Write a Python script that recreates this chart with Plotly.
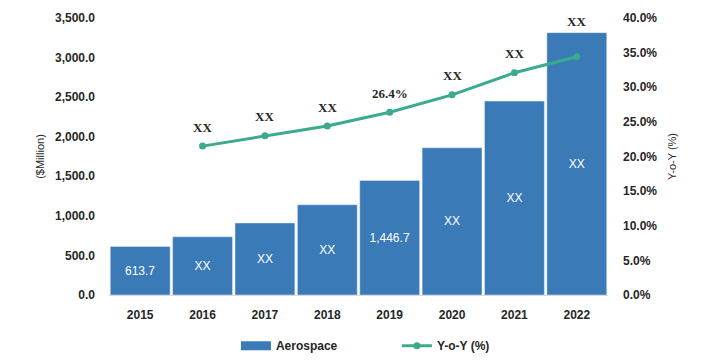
import plotly.graph_objects as go

years = [2015, 2016, 2017, 2018, 2019, 2020, 2021, 2022]
aerospace = [613.7, 735, 910, 1140, 1446.7, 1860, 2450, 3315]
bar_labels = ["613.7", "XX", "XX", "XX", "1,446.7", "XX", "XX", "XX"]
yoy_years = [2016, 2017, 2018, 2019, 2020, 2021, 2022]
yoy = [0.215, 0.230, 0.244, 0.264, 0.289, 0.321, 0.344]
yoy_labels = ["XX", "XX", "XX", "26.4%", "XX", "XX", "XX"]

BAR = "#3A7AB7"
LINE = "#3BAA8E"
TXT = "#262626"
SANS = "Liberation Sans, Arial, sans-serif"
SERIF = "Liberation Serif, Times New Roman, serif"
TICKF = dict(family=SANS, size=12, color=TXT, weight="bold")

fig = go.Figure()
fig.add_trace(go.Bar(
    x=years, y=aerospace, name="Aerospace", marker_color=BAR,
    text=bar_labels, textposition="inside", insidetextanchor="middle",
    textfont=dict(family=SANS, size=12, color="white"),
    hoverinfo="skip", showlegend=False,
))
# legend entry for the bars (wide swatch like the reference)
fig.add_trace(go.Scatter(
    x=[None], y=[None], name="Aerospace", mode="lines",
    line=dict(color=BAR, width=9), showlegend=True,
))
fig.add_trace(go.Scatter(
    x=yoy_years, y=yoy, name="Y-o-Y (%)", yaxis="y2", mode="lines+markers",
    line=dict(color=LINE, width=3), marker=dict(color=LINE, size=7),
))

annotations = []
for yr, v, lab in zip(yoy_years, yoy, yoy_labels):
    if yr == years[-1]:
        annotations.append(dict(x=yr, y=aerospace[-1], xref="x", yref="y", text=lab,
                                showarrow=False, yshift=11,
                                font=dict(family=SERIF, size=13, color=TXT, weight="bold")))
    else:
        annotations.append(dict(x=yr, y=v, xref="x", yref="y2", text=lab,
                                showarrow=False, yshift=19,
                                font=dict(family=SERIF, size=13, color=TXT, weight="bold")))

fig.update_layout(
    width=685, height=362,
    margin=dict(l=101, r=85, t=10, b=62),
    paper_bgcolor="white", plot_bgcolor="white",
    bargap=0.04,
    showlegend=True,
    legend=dict(orientation="h", x=0.577, xanchor="center", y=-0.131, yanchor="top",
                entrywidth=116, entrywidthmode="pixels",
                font=dict(family=SANS, size=12, color=TXT, weight="bold")),
    annotations=annotations,
    xaxis=dict(type="linear", range=[years[0] - 0.5, years[-1] + 0.5], tickmode="array",
               tickvals=years, showgrid=False, zeroline=False, automargin=False,
               showline=True, linecolor="#D9D9D9", linewidth=1,
               ticks="", tickfont=TICKF, ticklabelstandoff=9),
    yaxis=dict(range=[0, 3500], dtick=500, tickformat=",.1f", showgrid=False, zeroline=False,
               showline=False, tickfont=TICKF, automargin=False, ticklabelstandoff=13,
               title=dict(text="($Million)", font=dict(family=SANS, size=11, color=TXT), standoff=8)),
    yaxis2=dict(range=[0, 0.40], dtick=0.05, tickformat=".1%", overlaying="y", side="right",
                showgrid=False, zeroline=False, showline=False, tickfont=TICKF, automargin=False,
                ticklabelstandoff=14,
                title=dict(text="Y-o-Y (%)", font=dict(family=SANS, size=11, color=TXT), standoff=11)),
)

fig.write_html("out.html")
